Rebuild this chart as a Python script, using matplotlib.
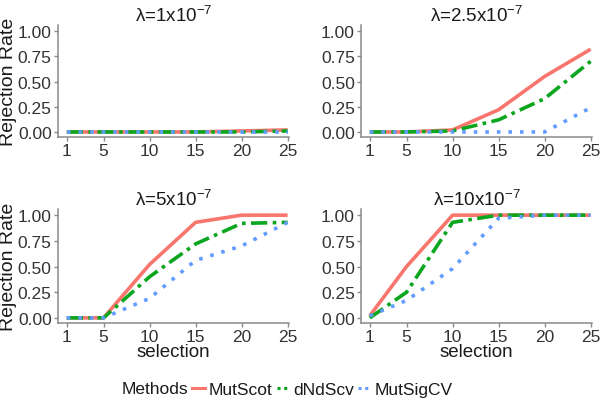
import matplotlib
matplotlib.use("Agg")
import matplotlib.pyplot as plt
from matplotlib.lines import Line2D

plt.rcParams["font.family"] = ["Liberation Sans", "DejaVu Sans"]
plt.rcParams["mathtext.fontset"] = "custom"
plt.rcParams["mathtext.rm"] = "Liberation Sans"
plt.rcParams["mathtext.it"] = "Liberation Sans:italic"

selection = [1, 5, 10, 15, 20, 25]
titles = [r"λ=1x10$^{-7}$", r"λ=2.5x10$^{-7}$", r"λ=5x10$^{-7}$", r"λ=10x10$^{-7}$"]
methods = ["MutScot", "dNdScv", "MutSigCV"]

mutscot = [
    [0.00, 0.00, 0.00, 0.00, 0.01, 0.02],
    [0.00, 0.00, 0.02, 0.22, 0.55, 0.82],
    [0.00, 0.00, 0.52, 0.93, 1.00, 1.00],
    [0.02, 0.50, 1.00, 1.00, 1.00, 1.00],
]
dndscv = [
    [0.00, 0.00, 0.00, 0.00, 0.00, 0.01],
    [0.00, 0.00, 0.01, 0.12, 0.33, 0.70],
    [0.00, 0.00, 0.40, 0.72, 0.92, 0.93],
    [0.00, 0.25, 0.93, 1.00, 1.00, 1.00],
]
mutsigcv = [
    [0.00, 0.00, 0.00, 0.00, 0.00, 0.00],
    [0.00, 0.00, 0.00, 0.00, 0.00, 0.24],
    [0.00, 0.00, 0.19, 0.56, 0.70, 0.93],
    [0.02, 0.17, 0.48, 0.97, 1.00, 1.00],
]

colors = ["#F8766D", "#0CA61E", "#619CFF"]
styles = ["-", (0, (4.5, 1.5, 1, 1.5)), (0, (1, 2.2))]

W, H = 600, 402
fig = plt.figure(figsize=(W / 100, H / 100), dpi=100)

# pixel boxes: left, top, width, height
boxes = [(58, 26, 231, 112), (361, 26, 231, 112),
         (58, 210, 231, 114), (361, 210, 231, 114)]

for i, (l, t, w, h) in enumerate(boxes):
    ax = fig.add_axes([l / W, 1 - (t + h) / H, w / W, h / H])
    for vals, c, ls in zip([mutscot[i], dndscv[i], mutsigcv[i]], colors, styles):
        ax.plot(selection, vals, color=c, linestyle=ls, lw=2.6,
                solid_capstyle="butt", dash_capstyle="butt")
    ax.set_xlim(0.05, 25.15)
    ax.set_ylim(-0.05, 1.06)
    ax.set_xticks(selection)
    ax.set_yticks([0, 0.25, 0.5, 0.75, 1.0])
    ax.set_yticklabels(["0.00", "0.25", "0.50", "0.75", "1.00"])
    for s in ["top", "right"]:
        ax.spines[s].set_visible(False)
    for s in ["left", "bottom"]:
        ax.spines[s].set_color("#8a8a8a")
        ax.spines[s].set_linewidth(1.1)
    ax.tick_params(colors="#8a8a8a", labelcolor="#333333", labelsize=12.5,
                   length=3, width=1.0, pad=1.5)
    ax.set_title(titles[i], fontsize=13.5, color="#1a1a1a", pad=3)
    if i % 2 == 0:
        ax.set_ylabel("Rejection Rate", fontsize=14, color="#1a1a1a")
        ax.yaxis.set_label_coords(-41 / w, 0.5)
    if i >= 2:
        ax.set_xlabel("selection", fontsize=13.5, color="#1a1a1a", labelpad=-1)

handles = [Line2D([], [], color=c, linestyle=ls, lw=2.2)
           for c, ls in zip(colors, [styles[0], (0, (1, 1.2)), (0, (1, 1.2))])]
fig.text(122 / W, 1 - 390 / H, "Methods", fontsize=12.5, color="#1a1a1a",
         va="center", ha="left")
fig.legend(handles, methods, loc="center left", bbox_to_anchor=(192 / W, 1 - 390 / H),
           ncol=3, frameon=False, fontsize=12.5, handlelength=0.75, handletextpad=0.2,
           columnspacing=0.25, borderpad=0, borderaxespad=0, labelcolor="#1a1a1a")

fig.savefig("out.png", dpi=100)
